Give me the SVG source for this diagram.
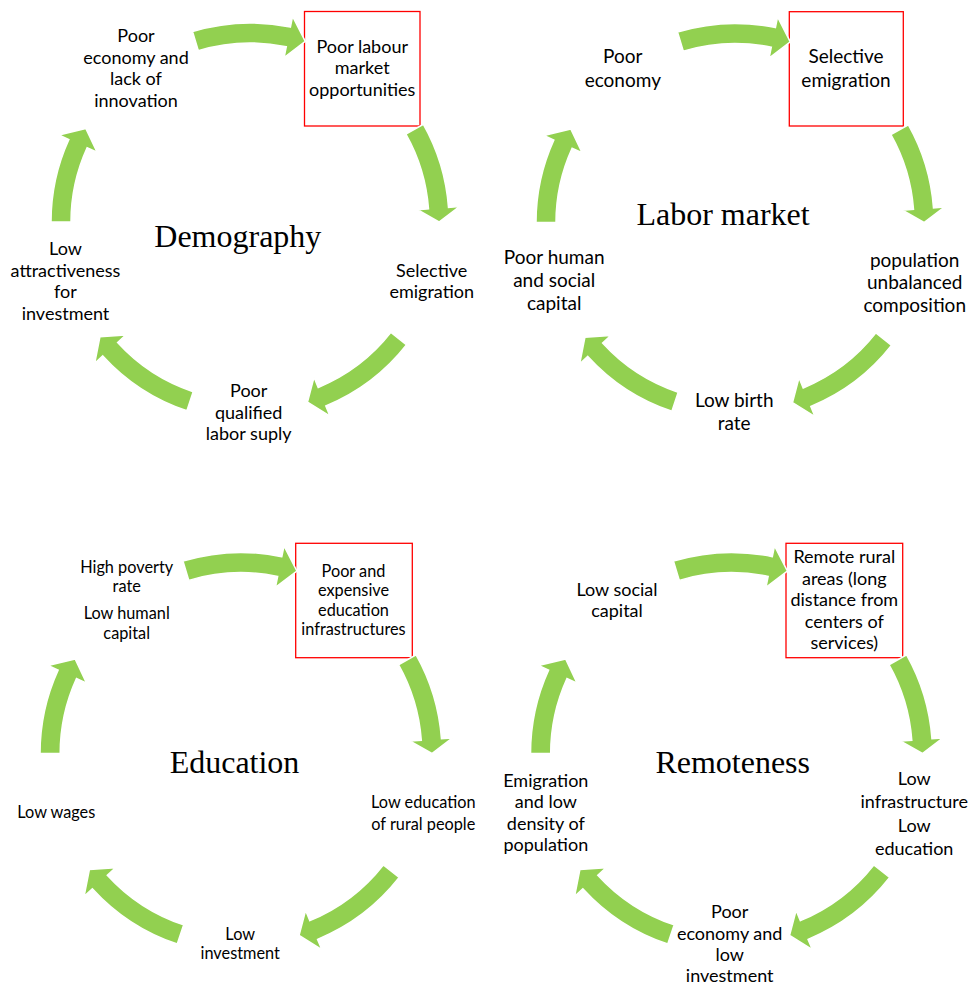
<svg xmlns="http://www.w3.org/2000/svg" width="969" height="985" viewBox="0 0 969 985">
<style>
.t{font-family:Lato,"Liberation Sans",sans-serif;text-anchor:middle;fill:#000}
.s1{font-size:18px}
.s2{font-size:19px}
.s3{font-size:16.3px}
.title{font-family:"Liberation Serif",serif;font-size:32px;text-anchor:middle;fill:#000}
.box{fill:none;stroke:#FF0000;stroke-width:1.3}
.arr{fill:#92D050;stroke:#FFFFFF;stroke-width:1.5;stroke-linejoin:miter}
</style>
<defs>
<path id="aT" d="M -57.5 -190.5 A 199 199 0 0 1 40.4 -194.9 L 42.6 -205.6 L 55.3 -180.7 L 34.1 -164.5 L 36.3 -175.3 A 179 179 0 0 0 -51.7 -171.4 Z"/>
<path id="aR" d="M 173.4 -97.7 A 199 199 0 0 1 198.5 -14.6 L 209.4 -15.4 L 189 0 L 167.5 -12.3 L 178.5 -13.1 A 179 179 0 0 0 155.9 -87.9 Z"/>
<path id="aBR" d="M 156.6 122.8 A 199 199 0 0 1 75.8 184.0 L 80.0 194.1 L 57.5 180.1 L 64.0 155.3 L 68.2 165.5 A 179 179 0 0 0 140.9 110.4 Z"/>
<path id="aBL" d="M -63.1 188.7 A 199 199 0 0 1 -147.2 133.9 L -155.3 141.3 L -150.1 114.8 L -124.3 113.1 L -132.4 120.5 A 179 179 0 0 0 -56.8 169.7 Z"/>
<path id="aL" d="M -199 0 A 199 199 0 0 1 -181.1 -82.5 L -191.1 -87.1 L -164.2 -93.6 L -152.9 -69.7 L -162.9 -74.2 A 179 179 0 0 0 -179 0 Z"/>
</defs>
<rect width="969" height="985" fill="#FFFFFF"/>

<!-- Cycle 1: Demography -->
<g id="demography-title"><text class="title" x="237.8" y="247.3">Demography</text></g>
<g id="d-poor-economy"><text class="t s1"><tspan x="136" y="42.3">Poor</tspan><tspan x="136" y="63.8">economy and</tspan><tspan x="136" y="85.3">lack of</tspan><tspan x="136" y="106.8">innovation</tspan></text></g>
<g id="d-poor-labour"><rect class="box" x="304.5" y="11.5" width="115.5" height="114.5"/><text class="t s1"><tspan x="362.2" y="52.7">Poor labour</tspan><tspan x="362.2" y="74.2">market</tspan><tspan x="362.2" y="95.7">opportunities</tspan></text></g>
<g id="d-selective-emigration"><text class="t s1"><tspan x="431.7" y="276.7">Selective</tspan><tspan x="431.7" y="298.2">emigration</tspan></text></g>
<g id="d-poor-qualified"><text class="t s1"><tspan x="248.7" y="397">Poor</tspan><tspan x="248.7" y="418.5">qualified</tspan><tspan x="248.7" y="440">labor suply</tspan></text></g>
<g id="d-low-attractiveness"><text class="t s1"><tspan x="65.5" y="255">Low</tspan><tspan x="65.5" y="276.5">attractiveness</tspan><tspan x="65.5" y="298">for</tspan><tspan x="65.5" y="319.5">investment</tspan></text></g>

<!-- Cycle 2: Labor market -->
<g id="labor-title"><text class="title" x="723" y="225">Labor market</text></g>
<g id="l-poor-economy"><text class="t s2"><tspan x="622.8" y="63.3">Poor</tspan><tspan x="622.8" y="86.5">economy</tspan></text></g>
<g id="l-selective-emigration"><rect class="box" x="789.3" y="11.7" width="114" height="114.3"/><text class="t s2"><tspan x="846" y="63.3">Selective</tspan><tspan x="846" y="86.5">emigration</tspan></text></g>
<g id="l-population"><text class="t s2"><tspan x="914.7" y="266.7">population</tspan><tspan x="914.7" y="289.3">unbalanced</tspan><tspan x="914.7" y="311.7">composition</tspan></text></g>
<g id="l-low-birth"><text class="t s2"><tspan x="734.2" y="406.7">Low birth</tspan><tspan x="734.2" y="429.7">rate</tspan></text></g>
<g id="l-poor-human"><text class="t s2"><tspan x="554.2" y="264.3">Poor human</tspan><tspan x="554.2" y="287">and social</tspan><tspan x="554.2" y="310">capital</tspan></text></g>

<!-- Cycle 3: Education -->
<g id="education-title"><text class="title" x="234.5" y="773.3">Education</text></g>
<g id="e-high-poverty"><text class="t s3"><tspan x="126.7" y="572.7">High poverty</tspan><tspan x="126.7" y="591.7">rate</tspan><tspan x="126.7" y="619.3">Low humanl</tspan><tspan x="126.7" y="639">capital</tspan></text></g>
<g id="e-poor-expensive"><rect class="box" x="295.7" y="543.3" width="116.6" height="114.4"/><text class="t s3"><tspan x="353.5" y="576.7">Poor and</tspan><tspan x="353.5" y="596.2">expensive</tspan><tspan x="353.5" y="615.8">education</tspan><tspan x="353.5" y="635.3">infrastructures</tspan></text></g>
<g id="e-low-education"><text class="t s3"><tspan x="423.3" y="808.3">Low education</tspan><tspan x="423.3" y="830">of rural people</tspan></text></g>
<g id="e-low-investment"><text class="t s3"><tspan x="240.2" y="940">Low</tspan><tspan x="240.2" y="959.3">investment</tspan></text></g>
<g id="e-low-wages"><text class="t s3" x="56.3" y="818.3">Low wages</text></g>

<!-- Cycle 4: Remoteness -->
<g id="remoteness-title"><text class="title" x="732.7" y="773.3">Remoteness</text></g>
<g id="r-low-social"><text class="t s1"><tspan x="617" y="595.7">Low social</tspan><tspan x="617" y="617.3">capital</tspan></text></g>
<g id="r-remote-rural"><rect class="box" x="786" y="543.3" width="116.7" height="114.4"/><text class="t s1"><tspan x="844.3" y="563.3">Remote rural</tspan><tspan x="844.3" y="585">areas (long</tspan><tspan x="844.3" y="606.4">distance from</tspan><tspan x="844.3" y="627.8">centers of</tspan><tspan x="844.3" y="649.2">services)</tspan></text></g>
<g id="r-low-infrastructure"><text class="t s1"><tspan x="914.2" y="784.7">Low</tspan><tspan x="914.2" y="808">infrastructure</tspan><tspan x="914.2" y="831.7">Low</tspan><tspan x="914.2" y="855">education</tspan></text></g>
<g id="r-poor-economy"><text class="t s1"><tspan x="729.7" y="918.3">Poor</tspan><tspan x="729.7" y="939.5">economy and</tspan><tspan x="729.7" y="960.7">low</tspan><tspan x="729.7" y="981.7">investment</tspan></text></g>
<g id="r-emigration"><text class="t s1"><tspan x="545.8" y="786.7">Emigration</tspan><tspan x="545.8" y="808">and low</tspan><tspan x="545.8" y="829.5">density of</tspan><tspan x="545.8" y="851">population</tspan></text></g>

<g id="connectors" class="arr">
<use href="#aT" transform="translate(250,222)"/>
<use href="#aR" transform="translate(250,222)"/>
<use href="#aBR" transform="translate(250,222)"/>
<use href="#aBL" transform="translate(250,222)"/>
<use href="#aL" transform="translate(250,222)"/>
<use href="#aT" transform="translate(735,222.5)"/>
<use href="#aR" transform="translate(735,222.5)"/>
<use href="#aBR" transform="translate(735,222.5)"/>
<use href="#aBL" transform="translate(735,222.5)"/>
<use href="#aL" transform="translate(735,222.5)"/>
<use href="#aT" transform="translate(241,753.5) scale(1.01)"/>
<use href="#aR" transform="translate(241,753.5) scale(1.01)"/>
<use href="#aBR" transform="translate(241,753.5) scale(1.01)"/>
<use href="#aBL" transform="translate(241,753.5) scale(1.01)"/>
<use href="#aL" transform="translate(241,753.5) scale(1.01)"/>
<use href="#aT" transform="translate(731.5,753.5) scale(1.01)"/>
<use href="#aR" transform="translate(731.5,753.5) scale(1.01)"/>
<use href="#aBR" transform="translate(731.5,753.5) scale(1.01)"/>
<use href="#aBL" transform="translate(731.5,753.5) scale(1.01)"/>
<use href="#aL" transform="translate(731.5,753.5) scale(1.01)"/>
</g>
</svg>
